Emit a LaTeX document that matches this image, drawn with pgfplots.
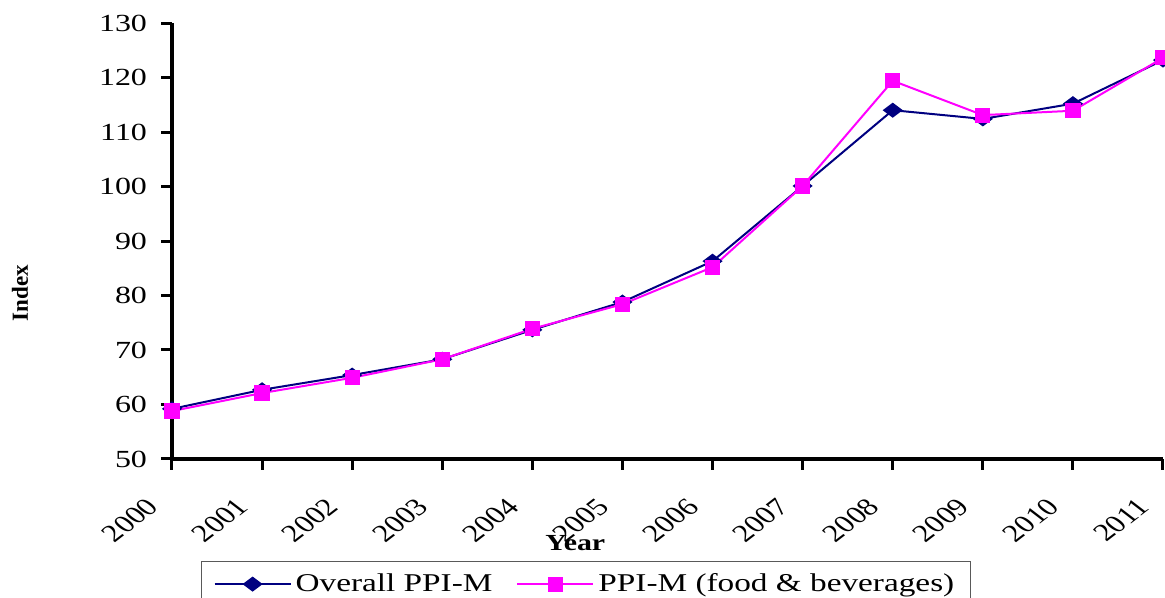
\documentclass[border=0pt]{standalone}
\usepackage{fontspec}
\setmainfont{Liberation Serif}[FakeStretch=1.3]
\newfontfamily\plainserif{Liberation Serif}
\usepackage{pgfplots}
\pgfplotsset{compat=1.18}
\usetikzlibrary{calc}
\definecolor{ppinavy}{RGB}{0,0,128}
\definecolor{ppimag}{RGB}{255,0,255}

\begin{document}
\begin{tikzpicture}
  \begin{axis}[name=ax, scale only axis, width=495.5pt, height=218pt,
    xmin=2000, xmax=2011, ymin=50, ymax=130,
    xtick={2000,...,2011}, ytick={50,60,...,130},
    axis lines*=left, axis line style={line width=1.8pt},
    tick align=outside, major tick length=5.5pt,
    tick style={line width=1.5pt, black},
    /pgf/number format/assume math mode=true,
    /pgf/number format/1000 sep={},
    tick label style={font=\fontsize{12.3}{14}\selectfont},
    yticklabel style={xshift=-3.5pt},
    xticklabel style={font=\plainserif\fontsize{12.3}{14}\selectfont,
      anchor=north east, xshift=-13.5pt, yshift=-8.5pt, xscale=1.3, rotate=45},
    xlabel={\bfseries Year},
    xlabel style={at={(axis description cs:0.407,0)}, anchor=center, yshift=-42pt,
      font=\fontsize{11.5}{13}\selectfont},
    ylabel={\plainserif\bfseries Index},
    ylabel style={at={(axis description cs:-0.1534,0.38)}, anchor=center,
      font=\fontsize{11.5}{13}\selectfont},
    clip=false,
    legend columns=2,
    legend style={at={(axis description cs:0,0)}, anchor=north west, xshift=14.5pt, yshift=-51pt,
      draw=gray!70!black, line width=0.6pt, font=\fontsize{12.8}{15}\selectfont,
      inner xsep=6pt, inner ysep=4pt,
      /tikz/every even column/.append style={column sep=10pt}},
    legend image code/.code={\draw[mark repeat=2, mark phase=2, #1] plot coordinates {(0pt,0pt) (19pt,0pt) (38pt,0pt)};},
  ]
    \addplot[ppinavy, line width=1pt, mark=diamond*, mark size=4.2pt,
      mark options={rotate=90, solid, fill=ppinavy}] coordinates {
      (2000,59.2) (2001,62.7) (2002,65.4) (2003,68.3) (2004,73.7) (2005,78.8)
      (2006,86.3) (2007,100.1) (2008,114.0) (2009,112.4) (2010,115.2) (2011,123.2)};
    \addlegendentry{Overall PPI-M}
    \addplot[ppimag, line width=1pt, mark=square*, mark size=3.3pt,
      mark options={solid, fill=ppimag}] coordinates {
      (2000,58.8) (2001,62.1) (2002,64.9) (2003,68.3) (2004,73.9) (2005,78.4)
      (2006,85.2) (2007,100.1) (2008,119.4) (2009,113.1) (2010,113.9) (2011,123.6)};
    \addlegendentry{PPI-M (food \& beverages)}
  \end{axis}
  \pgfresetboundingbox
  \useasboundingbox ($(ax.south west)+(-86pt,-69.5pt)$) rectangle ($(ax.north east)+(1pt,11.5pt)$);
\end{tikzpicture}
\end{document}
